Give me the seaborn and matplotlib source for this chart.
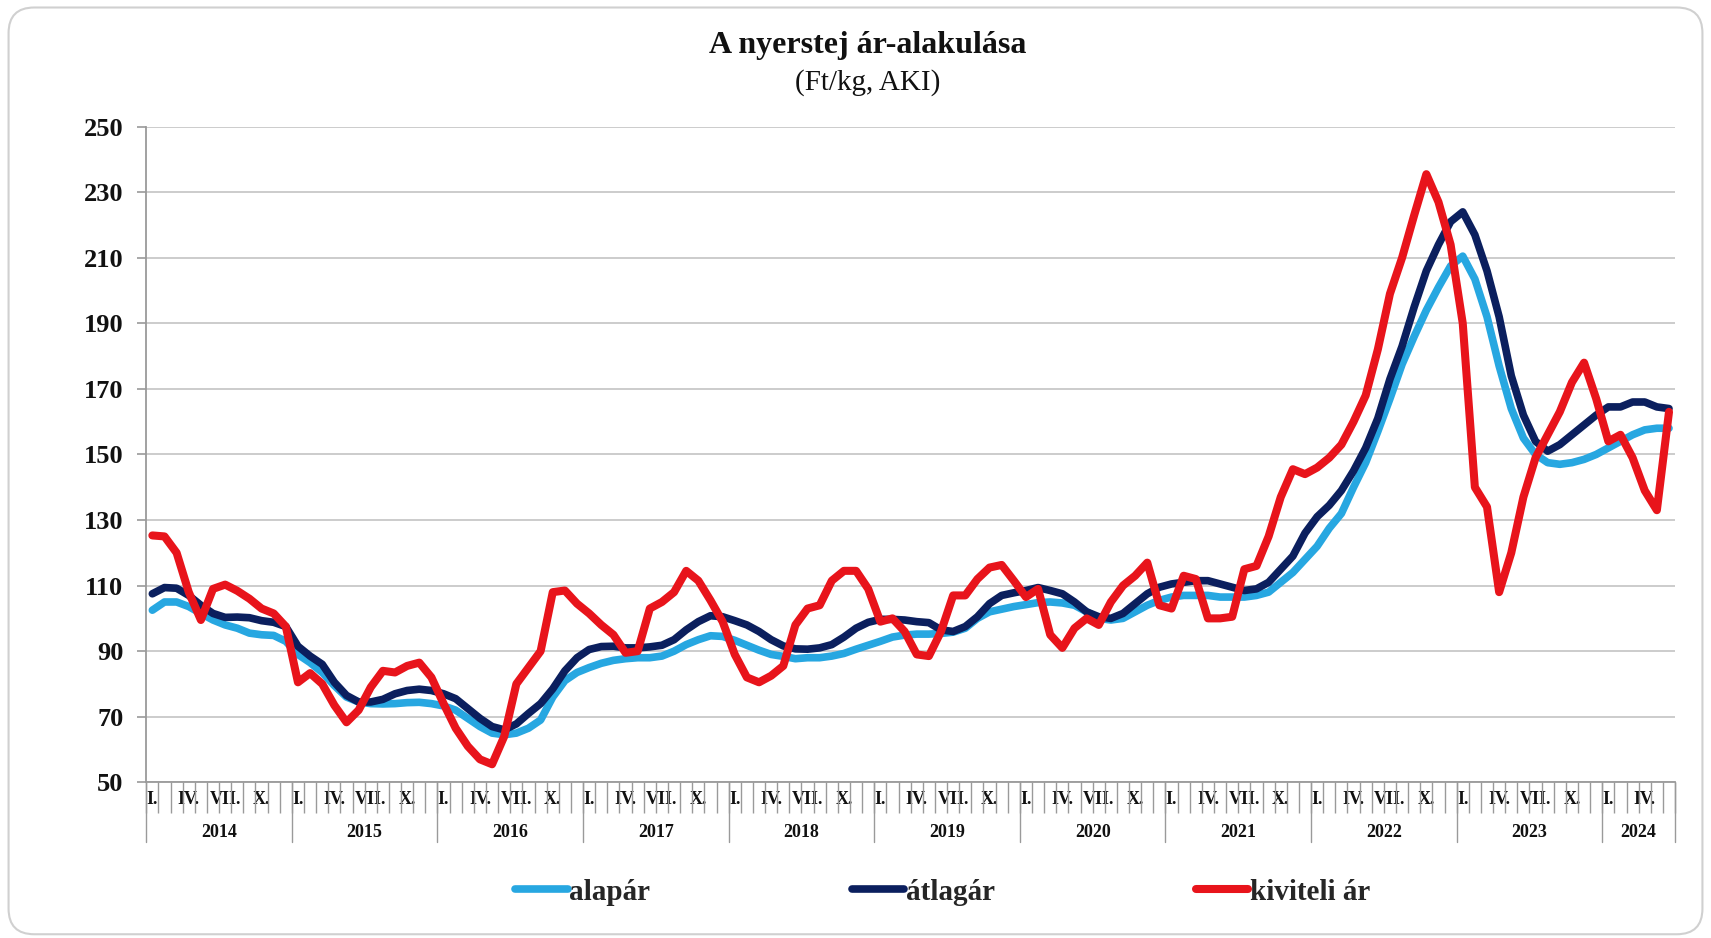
import numpy as np
import pandas as pd
import seaborn as sns
import matplotlib.pyplot as plt
from matplotlib.patches import FancyBboxPatch

# monthly prices, Jan 2014 - Jun 2024 (Ft/kg)
years = [2014, 2015, 2016, 2017, 2018, 2019, 2020, 2021, 2022, 2023, 2024]
month_labels = ["I.", "", "", "IV.", "", "", "VII.", "", "", "X.", "", ""]

alapar = [102.5, 105, 105, 103.6, 101.5, 99.5, 98, 97, 95.5, 95, 94.8, 93,
          89, 86.5, 83.5, 79.5, 76, 74.5, 74, 73.9, 74, 74.3, 74.4, 74,
          73.3, 72, 69.5, 67, 65, 64.5, 65, 66.5, 69, 76, 81, 83.5,
          85, 86.3, 87.2, 87.7, 88, 88, 88.5, 90, 92, 93.5, 94.7, 94.5,
          93.3, 91.8, 90.3, 89, 88.4, 87.7, 88, 88, 88.5, 89.3, 90.6, 91.8,
          93, 94.3, 94.9, 95.2, 95.2, 95.4, 95.8, 97, 100, 102, 102.8, 103.6,
          104.2, 104.8, 105, 104.7, 104, 102, 100, 99.5, 100, 102, 104, 105.5,
          106.5, 107, 107, 107, 106.5, 106.5, 106.5, 107, 108, 111, 114, 118,
          122, 127.5, 132, 140, 147.5, 157, 167, 177.5, 186, 194, 201, 207.5,
          210.5, 203.5, 192, 177, 164, 155, 150, 147.5, 147, 147.5, 148.5, 150,
          152, 154, 156, 157.5, 158, 158]

atlagar = [107.5, 109.4, 109.2, 107, 104, 101.5, 100.3, 100.4, 100.2, 99.3, 98.8, 97.5,
           91.5, 88.5, 86, 80.5, 76.5, 74.5, 74.5, 75.3, 77, 78, 78.4, 78,
           77, 75.5, 72.5, 69.5, 67, 66, 67.8, 71, 74, 78.5, 84, 88,
           90.5, 91.4, 91.5, 91, 91, 91.3, 91.8, 93.5, 96.5, 99, 100.8, 100.5,
           99.3, 98, 96, 93.5, 91.6, 90.7, 90.6, 91, 92, 94.3, 97, 98.8,
           99.7, 99.7, 99.5, 99, 98.7, 96.5, 96, 97.5, 100.5, 104.5, 107, 107.8,
           108.5, 109.4, 108.5, 107.5, 105, 102, 100.5, 100, 101.5, 104.5, 107.5, 109.5,
           110.5, 111, 111.5, 111.5, 110.5, 109.5, 108.5, 109, 111, 115, 119, 126,
           131, 134.5, 139, 145, 152, 161, 173, 183, 195, 206, 214, 221,
           224, 217, 206, 192, 174, 162, 154, 151, 153, 156, 159, 162,
           164.5, 164.5, 166, 166, 164.5, 164]

kiviteli = [125.3, 125, 120, 108, 99.5, 109, 110.3, 108.4, 106, 103, 101.5, 97.5,
            80.5, 83.3, 80, 73.5, 68.3, 72, 79, 84, 83.5, 85.5, 86.5, 82,
            74, 66.5, 61, 57, 55.5, 64, 80, 85, 90, 108, 108.5, 104.5,
            101.5, 98, 95, 89.5, 90, 103, 105, 108, 114.5, 111.5, 105.5, 99,
            89, 82, 80.5, 82.5, 85.5, 98, 103, 104, 111.5, 114.5, 114.5, 109,
            99, 100, 96, 89, 88.5, 96, 107, 107, 112, 115.5, 116.3, 111.5,
            106.5, 109, 95, 91, 97, 100, 98, 105, 110, 113, 117, 104,
            103, 113, 112, 100, 100, 100.5, 115, 116, 125, 137, 145.5, 144,
            146, 149, 153, 160, 168, 182, 199, 210, 223, 235.5, 227, 214,
            190, 140, 134, 108, 120, 137, 149, 156, 163, 172, 178, 167,
            154, 156, 149, 139, 133, 163]

n = len(alapar)
idx = np.arange(n)
df = pd.DataFrame({"idx": idx, "alapár": alapar, "átlagár": atlagar, "kiviteli ár": kiviteli})

sns.set_theme(style="white")
plt.rcParams["font.family"] = ["Liberation Serif", "DejaVu Serif"]

fig = plt.figure(figsize=(17.11, 9.38), dpi=100)
ax = fig.add_axes([0.0855, 0.166, 0.8935, 0.699])

sns.lineplot(data=df, x="idx", y="alapár", color="#27A7E1", lw=5.5, label="alapár", ax=ax)
sns.lineplot(data=df, x="idx", y="átlagár", color="#0B1F5E", lw=5.5, label="átlagár", ax=ax)
sns.lineplot(data=df, x="idx", y="kiviteli ár", color="#E8141B", lw=5.8, label="kiviteli ár", ax=ax)
for ln in ax.lines:
    ln.set_solid_joinstyle("round")
    ln.set_solid_capstyle("round")

ax.set_xlim(-0.5, n - 0.5)
ax.set_ylim(50, 250)
ax.set_yticks(np.arange(50, 251, 20))
ax.yaxis.grid(True, color="#C8C8C8", lw=1.3)
ax.xaxis.grid(False)
for s in ["top", "right"]:
    ax.spines[s].set_visible(False)
for s in ["left", "bottom"]:
    ax.spines[s].set_color("#9A9A9A")
    ax.spines[s].set_linewidth(1.3)
ax.set_xlabel("")
ax.set_ylabel("")

for lab in ax.get_yticklabels():
    lab.set_fontweight("bold")
    lab.set_fontsize(19)
ax.tick_params(axis="y", left=True, length=6.5, width=1.2, color="#9A9A9A", pad=10, labelcolor="#111111")

# month labels and separators
pos = [i for i in idx if month_labels[i % 12]]
ax.set_xticks(pos)
ax.set_xticklabels([month_labels[i % 12] for i in pos], fontsize=13, fontweight="bold", color="#111111")
ax.tick_params(axis="x", which="major", length=0, pad=6)
ax.set_xticks(np.arange(-0.5, n), minor=True)
ax.tick_params(axis="x", which="minor", bottom=True, length=22, width=1, color="#9A9A9A", direction="out")

tr = ax.get_xaxis_transform()
for k, yr in enumerate(years):
    start = k * 12 - 0.5
    end = min(start + 12, n - 0.5)
    ax.plot([start, start], [0, -0.0915], transform=tr, color="#9A9A9A", lw=1, clip_on=False)
    ax.text((start + end) / 2, -0.076, str(yr), transform=tr, ha="center", va="center",
            fontsize=13, fontweight="bold", color="#111111")
ax.plot([n - 0.5, n - 0.5], [0, -0.0915], transform=tr, color="#9A9A9A", lw=1, clip_on=False)

fig.text(0.507, 0.951, "A nyerstej ár-alakulása", ha="center", va="center",
         fontsize=23, fontweight="bold", color="#111111")
fig.text(0.507, 0.912, "(Ft/kg, AKI)", ha="center", va="center", fontsize=21, color="#111111")

handles, labels = ax.get_legend_handles_labels()
ax.get_legend().remove()
leg = fig.legend(handles, labels, loc="center", bbox_to_anchor=(0.551, 0.049), ncol=3,
                 frameon=False, handlelength=1.8, handletextpad=0.05, columnspacing=6.9,
                 prop={"family": ["Liberation Serif"], "weight": "bold", "size": 21})

border = FancyBboxPatch((0.005, 0.004), 0.99, 0.988, boxstyle="round,pad=0,rounding_size=0.015",
                        mutation_aspect=1711 / 938, transform=fig.transFigure,
                        facecolor="none", edgecolor="#D0D0D0", lw=1.5)
fig.patches.append(border)

fig.savefig("out.png", dpi=100)
